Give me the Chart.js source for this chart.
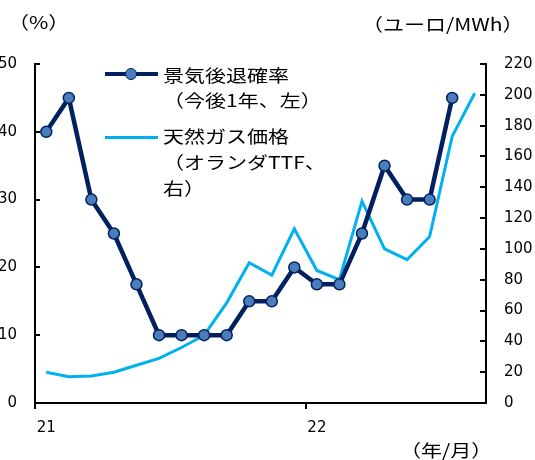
<!DOCTYPE html>
<html><head><meta charset="utf-8">
<script src="https://cdn.jsdelivr.net/npm/chart.js@4/dist/chart.umd.min.js"></script>
<style>
html,body{margin:0;padding:0;background:#fff;}
#wrap{position:relative;width:535px;height:460px;overflow:hidden;}
canvas{position:absolute;left:0;top:0;}
.t{position:absolute;font-family:"Noto Sans CJK JP",sans-serif;font-size:17.5px;color:#000;white-space:nowrap;line-height:1;transform-origin:0 50%;transform:scaleX(1.2);}
.ln{position:absolute;height:0;}
.mk{position:absolute;width:10px;height:10px;border-radius:50%;background:#4a7ebb;border:1.5px solid #002060;}
</style></head>
<body><div id="wrap">
<canvas id="c" width="535" height="460"></canvas>
<div class="t" style="left:8px;top:13px;">（%）</div>
<div class="t" style="left:362px;top:15px;">（ユーロ/MWh）</div>
<div class="t" style="left:400px;top:441px;">（年/月）</div>
<div class="ln" style="left:105px;width:53px;top:72px;border-top:4.5px solid #002060;"></div>
<div class="mk" style="left:125px;top:68px;"></div>
<div class="ln" style="left:105px;width:53px;top:136px;border-top:3px solid #00b0f0;"></div>
<div class="t" style="left:163px;top:66px;">景気後退確率</div>
<div class="t" style="left:163px;top:91px;">（今後1年、左）</div>
<div class="t" style="left:163px;top:127px;">天然ガス価格</div>
<div class="t" style="left:163px;top:153px;">（オランダTTF、</div>
<div class="t" style="left:163px;top:179px;">右）</div>
</div>
<script>
const months = ["21","","","","","","","","","","","","22","","","","","","",""];
const recessionProb = [40,45,30,25,17.5,10,10,10,10,15,15,20,17.5,17.5,25,35,30,30,45,null];
const gasPrice = [20,17,17.5,20,24.5,29,36,44,65,91,83,113,86,80,131,100,93,108,173,201];
const leftTicks = [0,10,20,30,40,50];
const rightTicks = [0,20,40,60,80,100,120,140,160,180,200,220];

const tickFont = {family:"DejaVu Sans", size:15};

const innerTicks = {
  id:'innerTicks',
  afterDraw(chart){
    const ctx = chart.ctx;
    ctx.save();
    ctx.strokeStyle = '#000';
    ctx.lineWidth = 2;
    const ys = chart.scales.y, yr = chart.scales.y1;
    ys.ticks.forEach((t,i)=>{
      const p = Math.round(ys.getPixelForTick(i));
      ctx.beginPath(); ctx.moveTo(ys.right, p); ctx.lineTo(ys.right+5, p); ctx.stroke();
    });
    yr.ticks.forEach((t,i)=>{
      const p = Math.round(yr.getPixelForTick(i));
      ctx.beginPath(); ctx.moveTo(yr.left, p); ctx.lineTo(yr.left-6, p); ctx.stroke();
    });
    ctx.restore();
  }
};

new Chart(document.getElementById('c'), {
  type:'line',
  data:{
    labels: months,
    datasets:[
      {label:'景気後退確率（今後1年、左）', data:recessionProb, yAxisID:'y',
       borderColor:'#002060', borderWidth:4.5, pointRadius:5.5, pointHoverRadius:5.5,
       pointBackgroundColor:'#4a7ebb', pointBorderColor:'#002060', pointBorderWidth:1.5,
       tension:0, spanGaps:false},
      {label:'天然ガス価格（オランダTTF、右）', data:gasPrice, yAxisID:'y1',
       borderColor:'#00b0f0', borderWidth:3, pointRadius:0, tension:0}
    ]
  },
  options:{
    responsive:false, devicePixelRatio:1, animation:false,
    layout:{padding:{top:64,left:0,right:0,bottom:0}},
    plugins:{legend:{display:false}, tooltip:{enabled:false}},
    scales:{
      x:{
        type:'category', offset:true,
        grid:{offset:true, drawOnChartArea:false, tickLength:6, lineWidth:2,
              color:(c)=> (c.index===0||c.index===12)?'#000':'rgba(0,0,0,0)'},
        border:{display:true, color:'#000', width:2},
        ticks:{autoSkip:false, maxRotation:0, minRotation:0, color:'#000', font:tickFont, padding:10},
        afterFit:(s)=>{ s.height = 57; }
      },
      y:{
        position:'left', min:0, max:50,
        afterBuildTicks:(s)=>{ s.ticks = leftTicks.map(v=>({value:v})); },
        grid:{drawOnChartArea:false, drawTicks:false},
        border:{display:true, color:'#000', width:2},
        ticks:{color:'#000', font:tickFont, padding:18},
        afterFit:(s)=>{ s.width = 35; }
      },
      y1:{
        position:'right', min:0, max:220,
        afterBuildTicks:(s)=>{ s.ticks = rightTicks.map(v=>({value:v})); },
        grid:{drawOnChartArea:false, drawTicks:false},
        border:{display:true, color:'#000', width:2},
        ticks:{color:'#000', font:tickFont, padding:18},
        afterFit:(s)=>{ s.width = 49; }
      }
    }
  },
  plugins:[innerTicks]
});
</script>
</body></html>
